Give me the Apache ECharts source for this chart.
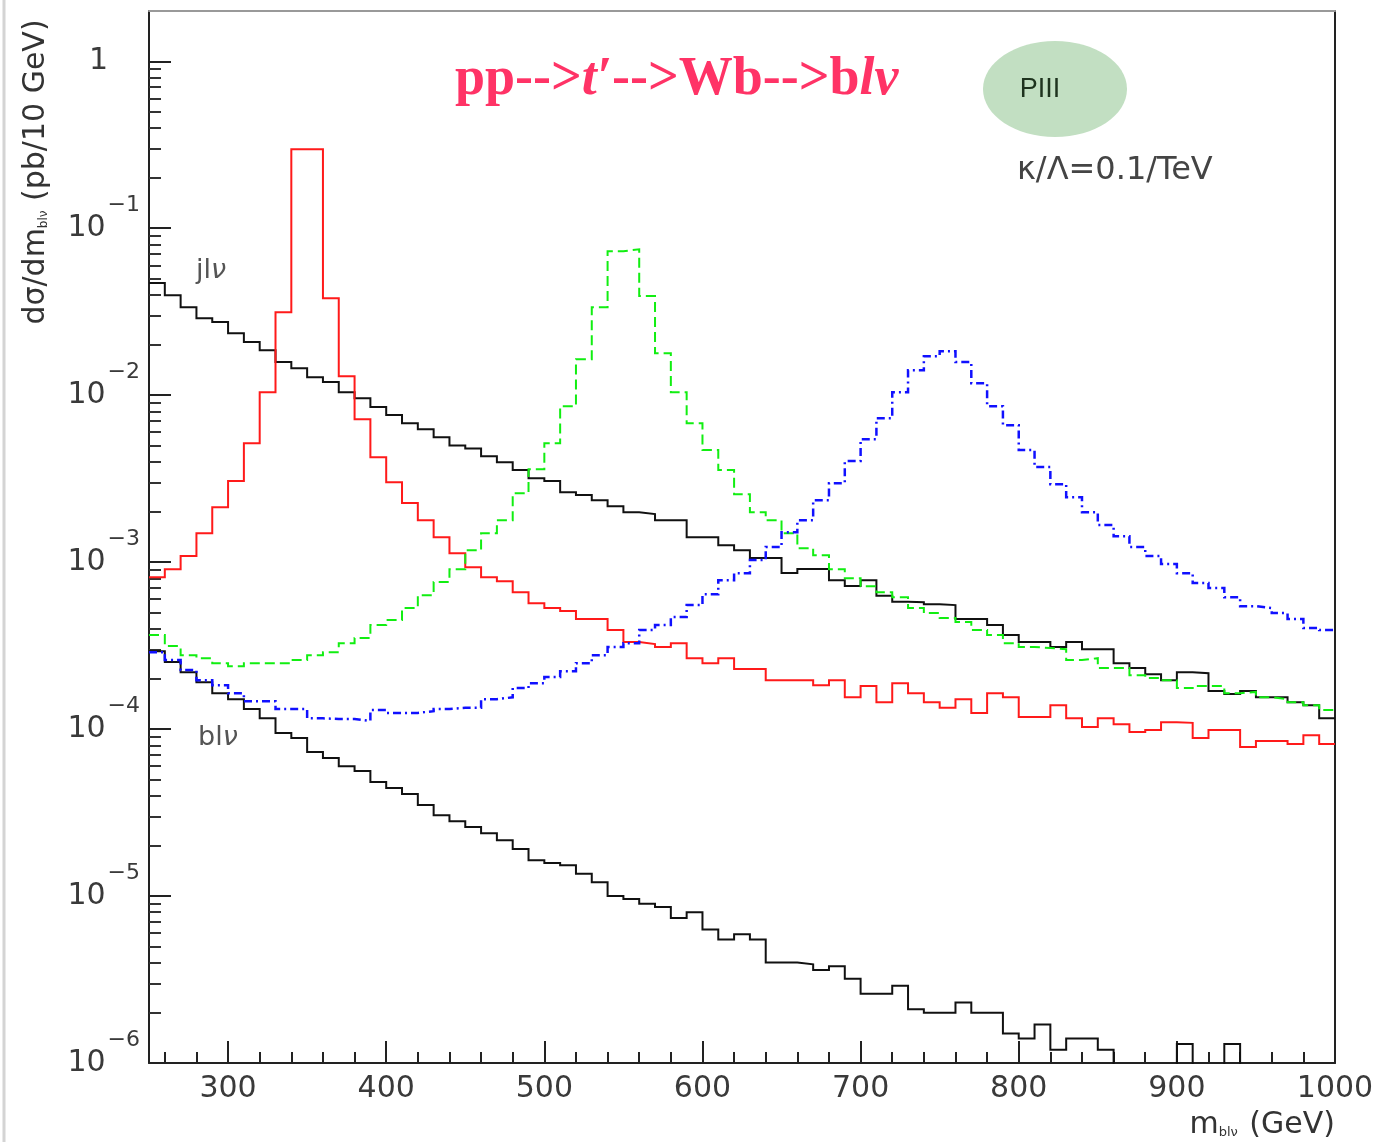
<!DOCTYPE html>
<html><head><meta charset="utf-8">
<script src="https://cdn.jsdelivr.net/npm/echarts@6/dist/echarts.min.js"></script>
<style>html,body{margin:0;padding:0;background:#fff}#c{width:1380px;height:1142px}</style>
</head><body><div id="c"></div>
<script>
// ---- data ----
const binStart = 250;      // GeV, left edge of first bin
const binWidth = 10;       // GeV
const xTickLabels = [300, 400, 500, 600, 700, 800, 900, 1000];
const xMinorTicks = [260, 280, 320, 340, 360, 380, 420, 440, 460, 480, 520, 540, 560, 580,
  620, 640, 660, 680, 720, 740, 760, 780, 820, 840, 860, 880, 920, 940, 960, 980];
const yTickValues = [1e-6, 1e-5, 1e-4, 1e-3, 1e-2, 1e-1, 1];

// j l nu background (upper black)
const jlnu = [
  0.0469, 0.0397, 0.0336, 0.0289, 0.0274, 0.0235, 0.0208, 0.0186, 0.0158, 0.0145,
  0.0128, 0.0120, 0.0104, 0.0096, 0.0085, 0.0076, 0.0068, 0.00626, 0.0056, 0.0050,
  0.0048, 0.00431, 0.00397, 0.00356, 0.00318, 0.00306, 0.00262, 0.00252, 0.00235, 0.00216,
  0.00199, 0.00194, 0.00178, 0.00178, 0.00141, 0.00141, 0.00126, 0.00118, 0.00106, 0.00106,
  0.00086, 0.00091, 0.00091, 0.00078, 0.00072, 0.00078, 0.00063, 0.00058, 0.000576, 0.00056,
  0.000553, 0.000456, 0.000456, 0.00042, 0.000366, 0.000332, 0.000332, 0.00031, 0.000332, 0.000301,
  0.000301, 0.000248, 0.000232, 0.000213, 0.000196, 0.000219, 0.000216, 0.000169, 0.000162, 0.000169,
  0.000155, 0.000155, 0.000145, 0.000139, 0.000116
];
// b l nu background (lower black); 0 = empty bin
const blnu = [
  0.000293, 0.000252, 0.000219, 0.000191, 0.000164, 0.000151, 0.000132, 0.000116, 0.0000946, 0.0000884,
  0.0000728, 0.0000670, 0.0000600, 0.0000561, 0.0000482, 0.0000444, 0.0000408, 0.0000351, 0.0000305, 0.0000281,
  0.0000259, 0.0000238, 0.0000216, 0.0000191, 0.0000164, 0.0000158, 0.0000153, 0.0000136, 0.0000121, 0.0000100,
  0.0000096, 0.0000090, 0.0000086, 0.0000074, 0.0000080, 0.0000063, 0.0000055, 0.0000059, 0.0000055, 0.0000040,
  0.0000040, 0.0000039, 0.0000036, 0.0000038, 0.0000032, 0.0000026, 0.0000026, 0.0000029, 0.0000021, 0.0000020,
  0.0000020, 0.0000023, 0.0000020, 0.0000020, 0.0000015, 0.0000014, 0.0000017, 0.0000012, 0.0000014, 0.0000014,
  0.0000012, 0, 0, 0, 0, 0.0000013, 0, 0, 0.0000013, 0,
  0, 0, 0, 0, 0
];
// t' signal, m = 350 GeV (red)
const tp350 = [
  0.000813, 0.000908, 0.00109, 0.00149, 0.00213, 0.00306, 0.00516, 0.0104, 0.0314, 0.297,
  0.297, 0.0381, 0.0130, 0.00718, 0.00425, 0.00301, 0.00226, 0.00178, 0.00141, 0.00113,
  0.000933, 0.000813, 0.000769, 0.000661, 0.000568, 0.000531, 0.000509, 0.000456, 0.000456, 0.000392,
  0.000332, 0.000323, 0.00031, 0.000327, 0.000266, 0.000248, 0.000266, 0.000229, 0.000229, 0.000196,
  0.000196, 0.000196, 0.000183, 0.000196, 0.000155, 0.000181, 0.000145, 0.000188, 0.000164, 0.000145,
  0.000134, 0.000151, 0.000125, 0.000164, 0.000155, 0.000118, 0.000118, 0.000139, 0.000116, 0.000103,
  0.000116, 0.000107, 0.0000960, 0.0000987, 0.000110, 0.000109, 0.0000884, 0.0000987, 0.0000987, 0.0000780,
  0.0000848, 0.0000848, 0.0000813, 0.0000920, 0.0000813
];
// t' signal, m = 550 GeV (green dashed)
const tp550 = [
  0.000366, 0.000314, 0.000277, 0.000266, 0.000248, 0.000238, 0.000248, 0.000248, 0.000248, 0.000259,
  0.000277, 0.000289, 0.000327, 0.000351, 0.000420, 0.000450, 0.000531, 0.000634, 0.000759, 0.000908,
  0.00118, 0.00149, 0.00178, 0.00259, 0.00360, 0.00516, 0.00859, 0.0164, 0.0336, 0.0728,
  0.0748, 0.0392, 0.0178, 0.0104, 0.00679, 0.00469, 0.00356, 0.00255, 0.00199, 0.00178,
  0.00149, 0.00121, 0.00110, 0.000908, 0.000802, 0.000718, 0.000661, 0.000617, 0.000531, 0.000495,
  0.000462, 0.000438, 0.000392, 0.000366, 0.000327, 0.000310, 0.000306, 0.000301, 0.000259, 0.000266,
  0.000232, 0.000232, 0.000210, 0.000202, 0.000196, 0.000176, 0.000181, 0.000181, 0.000164, 0.000167,
  0.000155, 0.000151, 0.000145, 0.000139, 0.000130
];
// t' signal, m = 750 GeV (blue dash-dot)
const tp750 = [
  0.000289, 0.000259, 0.000226, 0.000196, 0.000183, 0.000164, 0.000147, 0.000147, 0.000132, 0.000132,
  0.000116, 0.000115, 0.000115, 0.000112, 0.000130, 0.000125, 0.000125, 0.000128, 0.000132, 0.000134,
  0.000134, 0.000151, 0.000155, 0.000176, 0.000188, 0.000205, 0.000222, 0.000248, 0.000277, 0.000310,
  0.000327, 0.000392, 0.000420, 0.000469, 0.000553, 0.000643, 0.000780, 0.000859, 0.00103, 0.00123,
  0.00151, 0.00178, 0.00235, 0.00297, 0.00403, 0.00545, 0.00728, 0.0104, 0.0141, 0.0171,
  0.0183, 0.0158, 0.0118, 0.00859, 0.00661, 0.00469, 0.00371, 0.00293, 0.00245, 0.00199,
  0.00167, 0.00143, 0.00123, 0.00109, 0.000973, 0.000859, 0.000749, 0.000699, 0.000617, 0.000545,
  0.000531, 0.000495, 0.000456, 0.000403, 0.000392
];

// ---- build ----
const Y_MIN = 1e-6, Y_MAX = 2;
const FLOOR = 3e-7; // empty bins: drawn below the axis floor (clipped)
function steps(vals) {
  const pts = vals.map((v, i) => [binStart + i * binWidth, v > 0 ? v : FLOOR]);
  const last = vals[vals.length - 1];
  pts.push([binStart + vals.length * binWidth, last > 0 ? last : FLOOR]);
  return pts;
}
const yMinorTicks = [];
for (let e = -6; e <= -1; e++) for (let k = 2; k <= 9; k++) yMinorTicks.push(+(k * Math.pow(10, e)).toPrecision(3));

const labelFont = 'DejaVu Sans';
const chart = echarts.init(document.getElementById('c'), null, {renderer: 'canvas'});
function hist(name, vals, color, type, width) {
  return {
    name, type: 'line', step: 'end', data: steps(vals), showSymbol: false, symbol: 'none',
    clip: true, animation: false, xAxisIndex: 0, yAxisIndex: 0,
    lineStyle: {color, width, type, cap: 'butt', join: 'miter'}, z: 3
  };
}
const option = {
  animation: false,
  backgroundColor: '#fff',
  title: {
    left: 450, top: 48,
    text: '{n|pp-->}{i|t′}{n|-->Wb-->b}{i|lν}',
    textStyle: {
      rich: {
        n: {fontFamily: 'Liberation Serif', fontWeight: 'bold', fontSize: 54, color: '#ff3366'},
        i: {fontFamily: 'Liberation Serif', fontWeight: 'bold', fontStyle: 'italic', fontSize: 54, color: '#ff3366'}
      }
    }
  },
  grid: {left: 149, right: 45, top: 11, bottom: 79, containLabel: false},
  xAxis: [
    {
      type: 'value', min: 250, max: 1000, position: 'bottom',
      axisLine: {show: true, lineStyle: {color: '#222', width: 2}},
      axisTick: {show: true, inside: true, length: 22, lineStyle: {color: '#222', width: 2}, customValues: xTickLabels},
      axisLabel: {customValues: xTickLabels, fontSize: 30, fontFamily: labelFont, color: '#3a3a3a', margin: 11,
        formatter: function (v) { return String(Math.round(v)); }},
      splitLine: {show: false}
    },
    {
      type: 'value', min: 250, max: 1000, position: 'bottom',
      axisLine: {show: false},
      axisTick: {show: true, inside: true, length: 11, lineStyle: {color: '#222', width: 2}, customValues: xMinorTicks},
      axisLabel: {show: false}, splitLine: {show: false}
    },
    {
      type: 'value', min: 250, max: 1000, position: 'top',
      axisLine: {show: true, lineStyle: {color: '#999', width: 2}},
      axisTick: {show: false}, axisLabel: {show: false}, splitLine: {show: false}
    }
  ],
  yAxis: [
    {
      type: 'log', logBase: 10, min: Y_MIN, max: Y_MAX, position: 'left',
      axisLine: {show: true, lineStyle: {color: '#222', width: 2}},
      axisTick: {show: true, inside: true, length: 22, lineStyle: {color: '#222', width: 2}, customValues: yTickValues},
      axisLabel: {
        customValues: yTickValues, margin: 9,
        formatter: function (v) {
          const e = Math.round(Math.log10(v));
          if (e === 0) return '{one|1}';
          return '{b|10}{s|−' + (-e) + '}';
        },
        rich: {
          one: {fontSize: 30, fontFamily: labelFont, color: '#3a3a3a', padding: [0, 32, 0, 0]},
          b: {fontSize: 30, fontFamily: labelFont, color: '#3a3a3a'},
          s: {fontSize: 22, fontFamily: labelFont, color: '#3a3a3a', padding: [0, 0, 46, 2]}
        }
      },
      splitLine: {show: false}
    },
    {
      type: 'log', logBase: 10, min: Y_MIN, max: Y_MAX, position: 'left',
      axisLine: {show: false},
      axisTick: {show: true, inside: true, length: 12, lineStyle: {color: '#333', width: 2}, customValues: yMinorTicks},
      axisLabel: {show: false}, splitLine: {show: false}
    },
    {
      type: 'log', logBase: 10, min: Y_MIN, max: Y_MAX, position: 'right',
      axisLine: {show: true, lineStyle: {color: '#222', width: 2}},
      axisTick: {show: false}, axisLabel: {show: false}, splitLine: {show: false}
    }
  ],
  series: [
    hist('jlν', jlnu, '#111', 'solid', 2),
    hist('blν', blnu, '#111', 'solid', 2),
    hist("t' 350", tp350, '#ff1a1a', 'solid', 2),
    hist("t' 550", tp550, '#11ee11', [10, 5], 2),
    hist("t' 750", tp750, '#1010ff', [8, 4, 2, 4], 2.5)
  ],
  graphic: [
    {type: 'line', shape: {x1: 4, y1: 0, x2: 4, y2: 1142}, style: {stroke: '#d4d4d4', lineWidth: 3}, silent: true},
    {type: 'ellipse', shape: {cx: 1055, cy: 89, rx: 72, ry: 48}, style: {fill: '#c2dfc2'}, z: 10},
    {type: 'text', x: 1040, y: 90, z: 11, style: {text: 'PIII', fontSize: 27, fontFamily: 'Liberation Sans', fill: '#1e331e', align: 'center', verticalAlign: 'middle'}},
    {type: 'text', x: 1017, y: 171, z: 11, style: {text: 'κ/Λ=0.1/TeV', fontSize: 32, fontFamily: labelFont, fill: '#444', align: 'left', verticalAlign: 'middle'}},
    {type: 'text', x: 196, y: 271, z: 11, style: {text: 'jl{i|ν}', fontSize: 27, fontFamily: labelFont, fill: '#555', align: 'left', verticalAlign: 'middle',
      rich: {i: {fontSize: 27, fontFamily: labelFont, fontStyle: 'italic', fill: '#555'}}}},
    {type: 'text', x: 198, y: 738, z: 11, style: {text: 'bl{i|ν}', fontSize: 27, fontFamily: labelFont, fill: '#555', align: 'left', verticalAlign: 'middle',
      rich: {i: {fontSize: 27, fontFamily: labelFont, fontStyle: 'italic', fill: '#555'}}}},
    {type: 'text', x: 36, y: 172, rotation: Math.PI / 2, z: 11, style: {text: 'dσ/dm{s|blν} (pb/10 GeV)', fontSize: 30, fontFamily: labelFont, fill: '#333', align: 'center', verticalAlign: 'middle',
      rich: {s: {fontSize: 12, fontFamily: labelFont, fill: '#333', padding: [16, 0, 0, 0]}}}},
    {type: 'text', x: 1335, y: 1125, z: 11, style: {text: 'm{s|blν} (GeV)', fontSize: 30, fontFamily: labelFont, fill: '#333', align: 'right', verticalAlign: 'middle',
      rich: {s: {fontSize: 13, fontFamily: labelFont, fill: '#333', padding: [16, 2, 0, 0]}}}}
  ]
};
chart.setOption(option);
</script>
</body></html>
